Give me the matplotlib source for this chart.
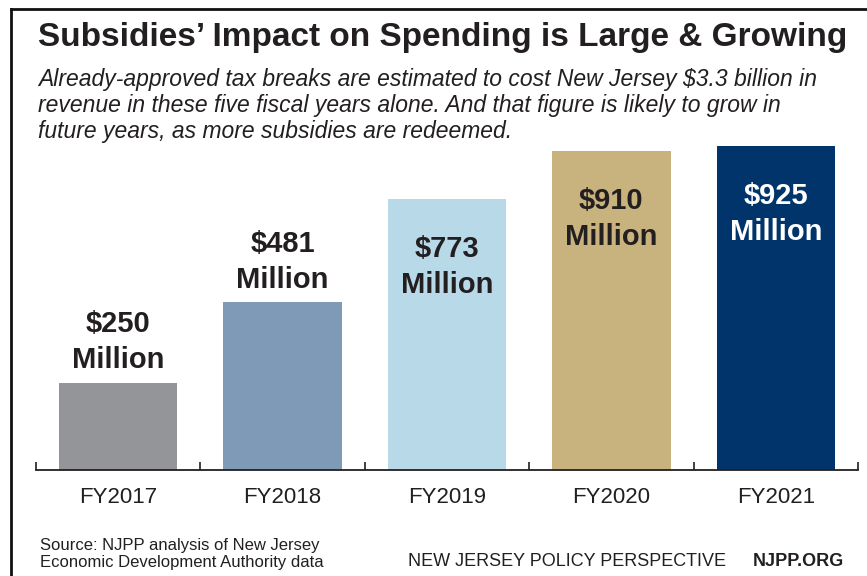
import matplotlib.pyplot as plt
from matplotlib.lines import Line2D

plt.rcParams['font.family'] = ['Liberation Sans', 'DejaVu Sans']

years = ["FY2017", "FY2018", "FY2019", "FY2020", "FY2021"]
costs = [250, 481, 773, 910, 925]  # millions of dollars
bar_colors = ["#949599", "#7f9ab6", "#b8d9e8", "#c8b37f", "#00346b"]
text_colors = ["#231f20", "#231f20", "#231f20", "#231f20", "white"]

W, H = 867, 576
fig = plt.figure(figsize=(W / 100, H / 100), dpi=100)


def fx(px):
    return px / W


def fy(py):
    return 1 - py / H


# frame lines on top and left edge
fig.add_artist(Line2D([fx(11), 1], [fy(9), fy(9)], color="#111111", lw=2))
fig.add_artist(Line2D([fx(11), fx(11)], [fy(9), 0], color="#111111", lw=2))

fig.text(fx(38), fy(46), "Subsidies\u2019 Impact on Spending is Large & Growing",
         fontsize=24, fontweight="bold", color="#231f20", va="baseline")
subtitle = ["Already-approved tax breaks are estimated to cost New Jersey $3.3 billion in",
            "revenue in these five fiscal years alone. And that figure is likely to grow in",
            "future years, as more subsidies are redeemed."]
for i, line in enumerate(subtitle):
    fig.text(fx(38), fy(86 + 26 * i), line, fontsize=16.5, style="italic",
             color="#231f20", va="baseline")

ax = fig.add_axes([fx(36), fy(470), fx(858) - fx(36), 350 / H])
x = range(len(years))
ax.bar(x, costs, width=0.72, color=bar_colors)
ax.set_xlim(-0.5, 4.5)
ax.set_ylim(0, 1000)

for s in ["top", "left", "right"]:
    ax.spines[s].set_visible(False)
ax.spines["bottom"].set_linewidth(1.3)
ax.spines["bottom"].set_color("#231f20")
ax.set_yticks([])
ax.set_xticks(list(x))
ax.set_xticklabels(years, fontsize=16, color="#231f20")
ax.tick_params(axis="x", which="major", length=0, pad=12)
ax.set_xticks([i - 0.5 for i in range(len(years) + 1)], minor=True)
ax.tick_params(axis="x", which="minor", direction="in", length=6, width=1.2, color="#231f20")

# value labels: above short bars, inside tall ones
for i, v in enumerate(costs):
    if v < 700:
        offs = [(36 + 14), 14]
    else:
        offs = [-58, -58 - 36]
    for txt, dy in zip([f"${v}", "Million"], offs):
        ax.annotate(txt, (i, v), xytext=(0, dy * 0.72), textcoords="offset points",
                    ha="center", va="baseline", fontsize=21, fontweight="bold",
                    color=text_colors[i])

fig.text(fx(40), fy(550), "Source: NJPP analysis of New Jersey", fontsize=12,
         color="#231f20", va="baseline")
fig.text(fx(40), fy(567), "Economic Development Authority data", fontsize=12,
         color="#231f20", va="baseline")
fig.text(fx(408), fy(566), "NEW JERSEY POLICY PERSPECTIVE", fontsize=13,
         color="#231f20", va="baseline")
fig.text(fx(844), fy(566), "NJPP.ORG", fontsize=13, fontweight="bold",
         color="#231f20", va="baseline", ha="right")

fig.savefig("out.png", dpi=100)
